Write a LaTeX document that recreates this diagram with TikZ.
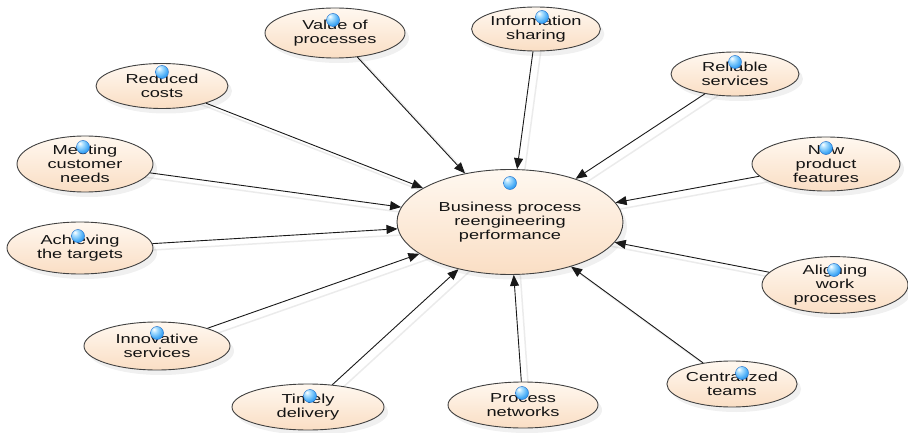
\documentclass[tikz,border=0pt]{standalone}
\usepackage{fontspec}
\newfontfamily\lblfont[FakeStretch=1.4]{Liberation Sans}
\usetikzlibrary{shapes.geometric,arrows.meta,shadows}
\pgfdeclarelayer{background}
\pgfsetlayers{background,main}
\definecolor{peachtop}{RGB}{255,248,240}
\definecolor{peachbot}{RGB}{250,222,196}
\definecolor{ballblue}{RGB}{60,165,245}
\definecolor{balllight}{RGB}{175,225,255}
\definecolor{balldark}{RGB}{25,105,200}
\pgfdeclareradialshading{orbshade}{\pgfpoint{-12bp}{14bp}}{color(0bp)=(white); color(10bp)=(balllight); color(30bp)=(ballblue); color(55bp)=(balldark); color(100bp)=(balldark)}
\tikzset{
  bubble/.style={ellipse, draw=black!75, line width=0.9pt,
    top color=peachtop, bottom color=peachbot,
    drop shadow={opacity=0.12, shadow xshift=4pt, shadow yshift=-5pt},
    align=center, inner sep=0pt,
    font=\lblfont\fontsize{13pt}{14pt}\selectfont, text=black!92},
  orb/.style={circle, inner sep=0pt, minimum size=13pt, shading=orbshade, draw=balldark, line width=0.4pt},
  link/.style={draw=black!90, line width=0.9pt, -{Triangle[length=11pt,width=9pt]}},
  ghost/.style={draw=black!8, line width=1.5pt}
}
\begin{document}
\begin{tikzpicture}[x=1pt,y=-1pt]
\useasboundingbox (0,0) rectangle (908,433);
% nodes
\node[bubble, minimum width=226pt, minimum height=105pt] (ctr) at (510,222) {Business process\\reengineering\\performance};
\node[bubble, minimum width=140pt, minimum height=50pt] (val) at (335,33) {Value of\\processes};
\node[bubble, minimum width=124pt, minimum height=44pt] (inf) at (536,29) {Information\\sharing};
\node[bubble, minimum width=128pt, minimum height=44pt] (rel) at (735,74) {Reliable\\services};
\node[bubble, minimum width=132pt, minimum height=45pt] (red) at (162,86) {Reduced\\costs};
\node[bubble, minimum width=136pt, minimum height=56pt] (mee) at (85,164) {Meeting\\customer\\needs};
\node[bubble, minimum width=148pt, minimum height=54pt] (new) at (826,164) {New\\product\\features};
\node[bubble, minimum width=146pt, minimum height=52pt] (ach) at (80,248) {Achieving\\the targets};
\node[bubble, minimum width=146pt, minimum height=52pt] (ali) at (835,285) {Aligning\\work\\processes};
\node[bubble, minimum width=146pt, minimum height=48pt] (inn) at (157,346) {Innovative\\services};
\node[bubble, minimum width=130pt, minimum height=46pt] (cen) at (732,384) {Centralized\\teams};
\node[bubble, minimum width=152pt, minimum height=46pt] (tim) at (308,407) {Timely\\delivery};
\node[bubble, minimum width=150pt, minimum height=46pt] (pro) at (523,405) {Process\\networks};
% ghost lines (faint shadows)
\begin{pgfonlayer}{background}
\foreach \n in {val,inf,rel,red,mee,new,ach,ali,inn,cen,tim,pro}{
  \draw[ghost] ([shift={(7pt,-6pt)}]\n.center) -- ([shift={(7pt,-6pt)}]ctr.center);
}
\end{pgfonlayer}
% connectors
\foreach \n in {val,inf,rel,red,mee,new,ach,ali,inn,cen,tim,pro}{
  \draw[link] (\n) -- (ctr);
}
% orbs
\node[orb] (o0) at (510,183) {};
\node[orb] (o1) at (333,20) {};
\node[orb] (o2) at (542,17) {};
\node[orb] (o3) at (735,62) {};
\node[orb] (o4) at (162,72) {};
\node[orb] (o5) at (83,147) {};
\node[orb] (o6) at (826,148) {};
\node[orb] (o7) at (78,236) {};
\node[orb] (o8) at (834,270) {};
\node[orb] (o9) at (157,333) {};
\node[orb] (o10) at (742,373) {};
\node[orb] (o11) at (310,396) {};
\node[orb] (o12) at (522,393) {};
\end{tikzpicture}
\end{document}
